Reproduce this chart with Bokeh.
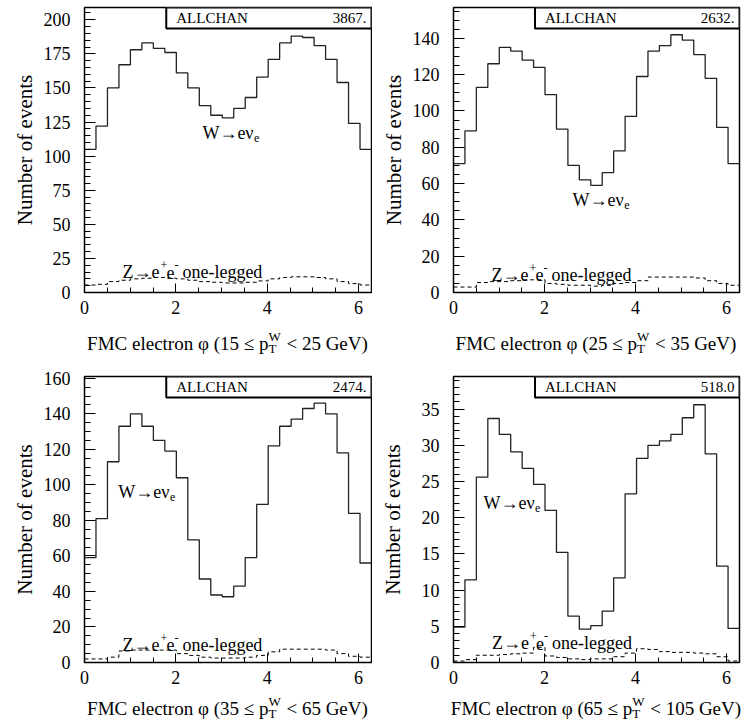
import math
from bokeh.plotting import figure
from bokeh.layouts import column, row
from bokeh.models import Range1d, FixedTicker, Label, BoxAnnotation
from bokeh.embed import file_html
from bokeh.resources import INLINE

# ---------------- data ----------------
PHI_MAX = 2 * math.pi
N_BINS = 25

pt_low = ["15", "25", "35", "65"]
pt_high = ["25", "35", "65", "105"]
allchan_values = ["3867.", "2632.", "2474.", "518.0"]

w_15_25 = [105, 122, 150, 167, 178, 183, 179, 176, 161, 150, 137, 130, 128,
           135, 143, 158, 171, 183, 188, 187, 181, 171, 154, 124, 105]
w_25_35 = [71, 89, 113, 126, 135, 133, 128, 124, 109, 90, 70, 62, 59,
           66, 78, 97, 119, 133, 136, 142, 139, 131, 118, 91, 71]
w_35_65 = [59, 81, 113, 133, 140, 133, 125, 119, 104, 69, 47, 38, 37,
           43, 59, 89, 122, 133, 137, 143, 146, 140, 118, 84, 56]
w_65_105 = [4.9, 11.4, 25.6, 33.7, 31.5, 29.1, 26.8, 24.6, 21.0, 15.2, 6.4, 4.6, 5.1,
            7.1, 11.7, 23.3, 28.2, 30.0, 30.6, 31.5, 33.8, 35.6, 28.8, 13.3, 4.7]

z_15_25 = [5.5, 6, 8, 9, 10, 10.5, 11, 10.5, 10, 9, 8, 7.5, 7,
           7, 7.5, 8.5, 10, 11, 11.5, 11.5, 11, 10, 8, 6.5, 5.5]
z_25_35 = [3, 3, 5.5, 6, 6, 6.5, 7, 7, 5, 4.5, 4, 4, 3.5,
           4, 5, 5.5, 6.5, 8.5, 8.5, 8.5, 8.5, 8, 6.5, 5, 4]
z_35_65 = [2, 2, 3, 6.5, 7, 7, 7, 7, 5, 4, 3, 2.5, 2.5,
           2.5, 3, 4, 6, 7.5, 7.5, 7.5, 7.5, 7, 5, 3.5, 3]
z_65_105 = [0.2, 0.4, 1.0, 1.0, 1.1, 1.2, 1.3, 2.1, 0.9, 0.7, 0.5, 0.4, 0.5,
            0.5, 0.8, 1.3, 1.9, 1.8, 1.5, 1.4, 1.4, 1.3, 1.2, 0.8, 0.2]

w_series = [w_15_25, w_25_35, w_35_65, w_65_105]
z_series = [z_15_25, z_25_35, z_35_65, z_65_105]

y_max = [209, 157, 161, 39.5]
y_major_ticks = [[0, 25, 50, 75, 100, 125, 150, 175, 200],
                 [0, 20, 40, 60, 80, 100, 120, 140],
                 [0, 20, 40, 60, 80, 100, 120, 140, 160],
                 [0, 5, 10, 15, 20, 25, 30, 35]]
y_minor_step = [5, 5, 5, 1]
x_major_ticks = [0, 2, 4, 6]
x_minor_step = 0.5

# annotation anchors (data coords)
w_label_x = [3.70, 3.74, 1.86, 1.78]
w_label_y = [117, 51, 96, 22]
z_label_x = [1.64, 1.65, 1.64, 1.66]
z_label_y = [14.9, 9.9, 10.0, 2.67]
box_left_x = 1.79

# ---------------- style ----------------
FONT = "Liberation Serif"
TNR = {'F': 556, 'M': 889, 'C': 667, 'e': 444, 'l': 278, 'c': 444, 't': 278, 'r': 333,
       'o': 500, 'n': 500, 'φ': 521, '(': 333, ')': 333, '≤': 549, 'p': 500, 'T': 611,
       'W': 944, '<': 564, 'G': 722, 'V': 722, ' ': 250, 'Z': 611, '→': 1000, 'ν': 500,
       '+': 564, '-': 333, 'g': 500, 'd': 500}


def tw(s, size):
    return sum(TNR.get(ch, 500) for ch in s) * size / 1000.0


def lab(p, text, x, y, size, xo=0, yo=0, align="left", baseline="alphabetic"):
    p.add_layout(Label(x=x, y=y, x_offset=xo, y_offset=yo, text=text,
                       text_font=FONT, text_font_size=f"{size}px",
                       text_align=align, text_baseline=baseline,
                       text_color="black"))


col_geom = [dict(min_border_left=84, frame_width=287, min_border_right=1),
            dict(min_border_left=81, frame_width=286, min_border_right=3)]
row_geom = [dict(min_border_top=7, frame_height=285, min_border_bottom=32),
            dict(min_border_top=8, frame_height=286, min_border_bottom=32)]
col_width = [372, 370]
title_height = [44, 29]
title_base = [25, 15]

edges = [PHI_MAX * i / N_BINS for i in range(N_BINS + 1)]

figs = []
titles = []
for k in range(4):
    r, c = divmod(k, 2)
    geo = {}
    geo.update(col_geom[c])
    geo.update(row_geom[r])
    p = figure(output_backend="svg", toolbar_location=None,
               x_range=Range1d(0, PHI_MAX), y_range=Range1d(0, y_max[k]),
               background_fill_color="white", border_fill_color="white",
               **geo)
    p.outline_line_color = "black"
    p.outline_line_width = 1.5
    p.outline_line_alpha = 1
    p.xgrid.visible = False
    p.ygrid.visible = False

    # axes
    xminor = [i * x_minor_step for i in range(int(6.5 / x_minor_step) + 1)]
    p.xaxis.ticker = FixedTicker(ticks=x_major_ticks, minor_ticks=xminor)
    ymin_ticks = [i * y_minor_step[k] for i in range(int(y_max[k] / y_minor_step[k]) + 1)]
    p.yaxis.ticker = FixedTicker(ticks=y_major_ticks[k], minor_ticks=ymin_ticks)
    for axl in (p.xaxis, p.yaxis):
        axl.axis_line_color = None
        axl.major_tick_line_color = "black"
        axl.minor_tick_line_color = "black"
        axl.major_tick_out = 0
        axl.minor_tick_out = 0
        axl.major_label_text_font = FONT
        axl.major_label_text_font_size = "18px"
        axl.major_label_text_color = "black"
    p.xaxis.major_tick_in = 9
    p.xaxis.minor_tick_in = 5
    p.yaxis.major_tick_in = 11
    p.yaxis.minor_tick_in = 6
    p.xaxis.major_label_standoff = 8
    p.yaxis.major_label_standoff = 14
    p.yaxis.axis_label = "Number of events"
    p.yaxis.axis_label_text_font = FONT
    p.yaxis.axis_label_text_font_size = "21px"
    p.yaxis.axis_label_text_font_style = "normal"
    p.yaxis.axis_label_text_color = "black"
    p.yaxis.axis_label_standoff = 14 if k == 3 else 4

    # histograms
    p.step(x=edges, y=list(w_series[k]) + [w_series[k][-1]], mode="after",
           line_color="#222222", line_width=1.3)
    p.step(x=edges, y=list(z_series[k]) + [z_series[k][-1]], mode="after",
           line_color="black", line_width=1, line_dash="4 3")

    # ALLCHAN box
    ppu = row_geom[r]["frame_height"] / y_max[k]
    p.add_layout(BoxAnnotation(left=box_left_x, right=PHI_MAX, top=y_max[k],
                               bottom=y_max[k] - 21 / ppu,
                               fill_color="white", fill_alpha=1,
                               line_color="black", line_width=2, line_alpha=1))
    lab(p, "ALLCHAN", box_left_x, y_max[k], 15, xo=10, yo=-10.5, baseline="middle")
    lab(p, allchan_values[k], PHI_MAX, y_max[k], 15, xo=-5, yo=-10.5,
        align="right", baseline="middle")

    # W label
    lab(p, "W→eν", w_label_x[k], w_label_y[k], 18, align="right")
    lab(p, "e", w_label_x[k], w_label_y[k], 12, xo=0.5, yo=-5)

    # Z label (anchored at the end of "Z→e")
    zx, zy = z_label_x[k], z_label_y[k]
    lab(p, "Z→e", zx, zy, 18, align="right")
    lab(p, "+", zx, zy, 12, xo=1, yo=7)
    lab(p, "e", zx, zy, 18, xo=7)
    lab(p, "-", zx, zy, 12, xo=15, yo=7)
    lab(p, "one-legged", zx, zy, 18, xo=23)

    figs.append(p)

    # bottom title in its own text strip
    tp = figure(output_backend="svg", toolbar_location=None,
                frame_width=col_width[c], frame_height=title_height[r],
                min_border=0, x_axis_location=None, y_axis_location=None,
                x_range=Range1d(0, col_width[c]), y_range=Range1d(0, title_height[r]),
                background_fill_color="white", border_fill_color="white",
                outline_line_color=None)
    tp.xgrid.visible = False
    tp.ygrid.visible = False
    cx = col_geom[c]["min_border_left"] + col_geom[c]["frame_width"] / 2
    tA = f"FMC electron φ ({pt_low[k]} ≤ p"
    tC = f"< {pt_high[k]} GeV)"
    wA = tw(tA, 19)
    wW = tw("W", 13) + 1
    wS = tw(" ", 19)
    wC = tw(tC, 19)
    anchor = cx - (wA + wW + wS + wC) / 2 + wA
    yb = title_base[r]
    lab(tp, tA, anchor, yb, 19, align="right")
    lab(tp, "T", anchor, yb, 13, yo=-5)
    lab(tp, "W", anchor, yb, 13, yo=7)
    lab(tp, tC, anchor, yb, 19, xo=wW + wS)
    titles.append(tp)

layout = column(row(figs[0], figs[1]), row(titles[0], titles[1]),
                row(figs[2], figs[3]), row(titles[2], titles[3]))
open("out.html", "w").write(file_html(layout, INLINE))
